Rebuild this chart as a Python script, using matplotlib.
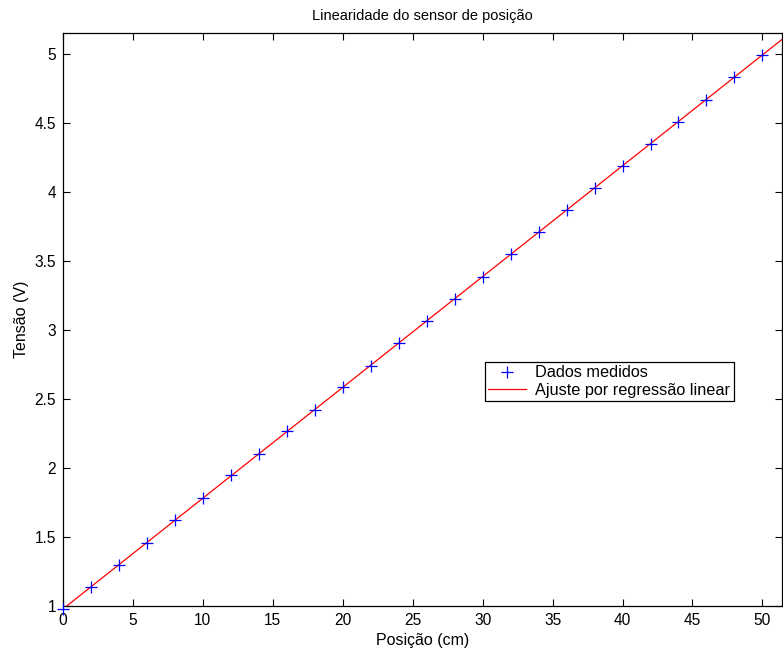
import numpy as np
import matplotlib
matplotlib.use("Agg")
import matplotlib.pyplot as plt

plt.rcParams["font.family"] = ["Liberation Sans", "DejaVu Sans"]

# medidas do sensor
posicao = [0, 2, 4, 6, 8, 10, 12, 14, 16, 18, 20, 22, 24,
           26, 28, 30, 32, 34, 36, 38, 40, 42, 44, 46, 48, 50]
tensao = [0.98, 1.14, 1.30, 1.46, 1.62, 1.78, 1.95, 2.10, 2.265, 2.42,
          2.585, 2.74, 2.905, 3.065, 3.225, 3.385, 3.55, 3.71, 3.87,
          4.03, 4.19, 4.35, 4.51, 4.67, 4.835, 4.995]

x_max = 51.4
y_lim = (1, 5.152)

coef = np.polyfit(posicao, tensao, 1)
x_fit = np.array([0, x_max])
y_fit = np.polyval(coef, x_fit)

fig = plt.figure(figsize=(7.83, 6.52), dpi=100)
ax = fig.add_axes([63 / 783, 46 / 652, 719 / 783, 573 / 652])

ax.plot(posicao, tensao, "b+", markersize=8, markeredgewidth=0.9,
        clip_on=False, zorder=3, label="Dados medidos")
ax.plot(x_fit, y_fit, "r-", linewidth=0.9, label="Ajuste por regressão linear")

ax.set_xlim(0, x_max)
ax.set_ylim(*y_lim)
ax.set_xticks(np.arange(0, 51, 5))
ax.set_yticks(np.arange(1, 5.01, 0.5))
ax.set_yticklabels(["1", "1.5", "2", "2.5", "3", "3.5", "4", "4.5", "5"])
ax.tick_params(direction="in", top=True, right=True, labelsize=11.2,
               length=5, width=0.8)
ax.tick_params(axis="x", pad=5)
ax.tick_params(axis="y", pad=5)
for s in ax.spines.values():
    s.set_linewidth(0.9)

ax.set_title("Linearidade do sensor de posição", fontsize=10.5, pad=9.5)
ax.set_xlabel("Posição (cm)", fontsize=11.5, labelpad=4)
ax.set_ylabel("Tensão (V)", fontsize=11.5, labelpad=4)

leg = ax.legend(loc="upper left", bbox_to_anchor=(422 / 719, (606 - 362) / 573),
                fontsize=11.7, fancybox=False, edgecolor="black",
                framealpha=1, borderpad=0.2, handlelength=2.3,
                handletextpad=0.6, labelspacing=0.15, borderaxespad=0)
leg.get_frame().set_linewidth(0.9)

plt.savefig("out.png", dpi=100)
